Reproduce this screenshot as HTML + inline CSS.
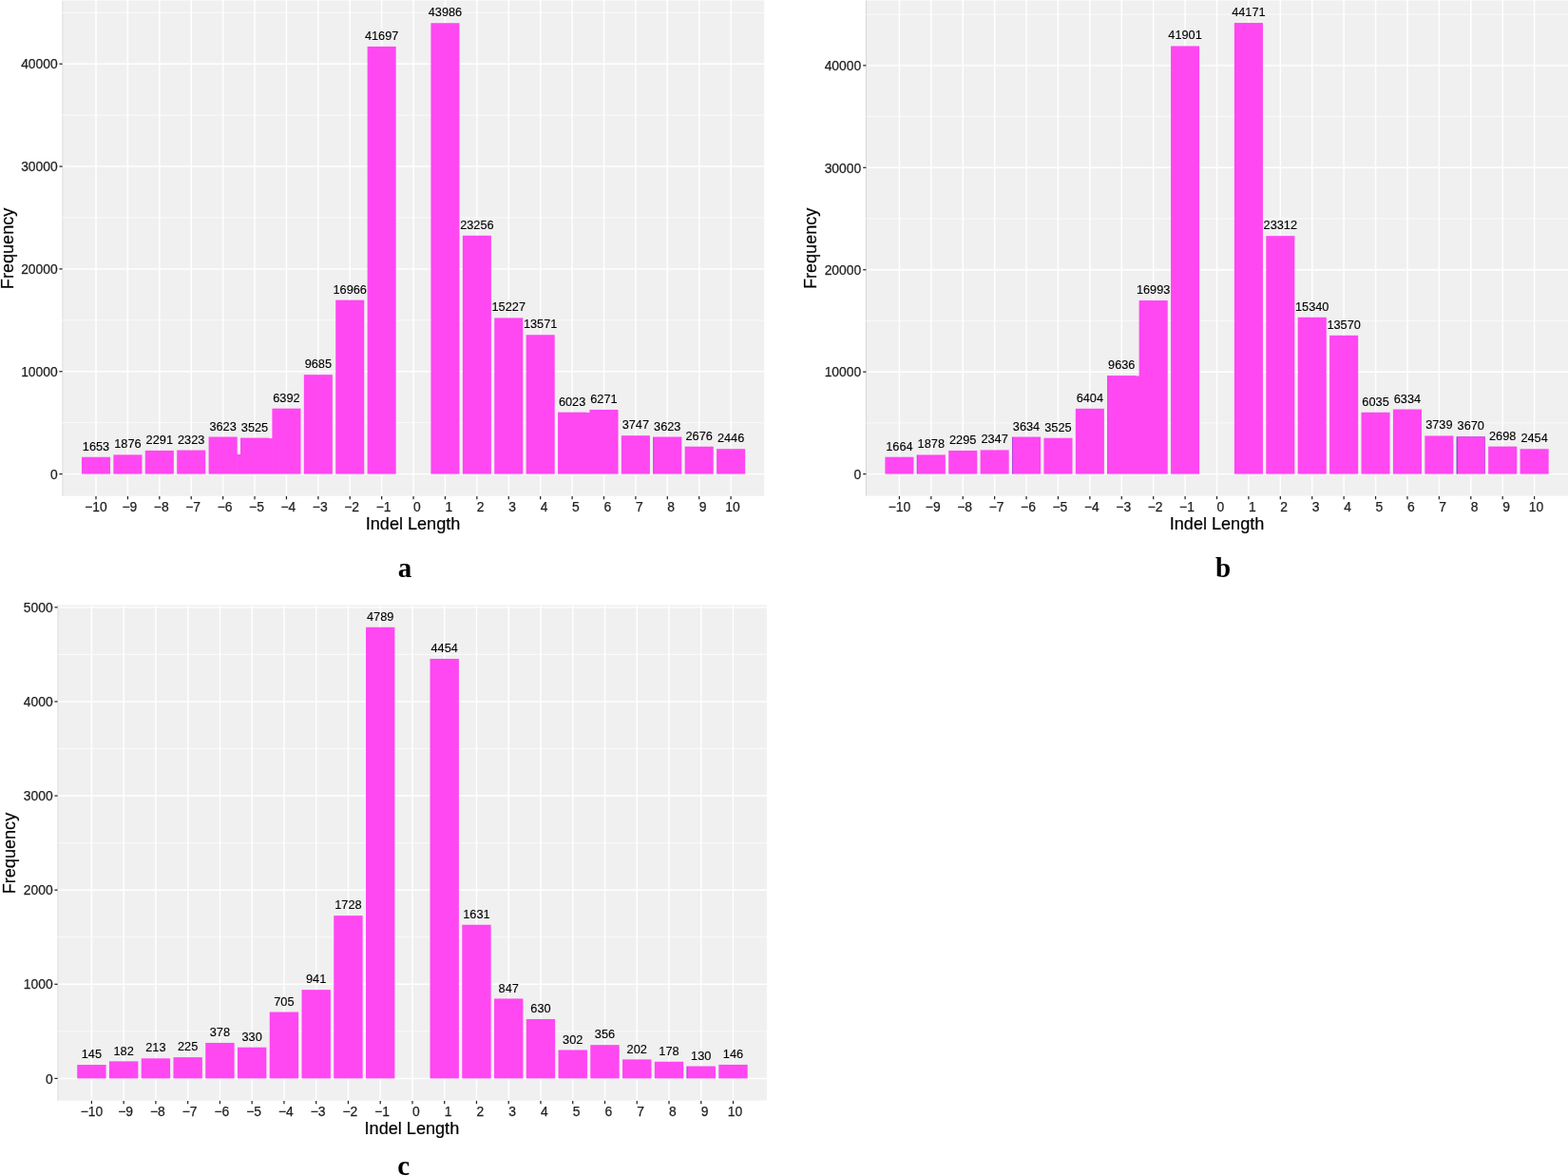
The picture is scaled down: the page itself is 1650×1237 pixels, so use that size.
<!DOCTYPE html>
<html lang="en"><head><meta charset="utf-8"><title>Indel length frequency</title>
<style>html,body{margin:0;padding:0;background:#fff;}body{width:1650px;height:1237px;overflow:hidden;}svg{display:block;}text{font-family:"Liberation Sans",sans-serif;}.ax{font-size:13.85px;fill:#1f1f1f;stroke:#1f1f1f;stroke-width:0.25px;}.bl{font-size:12.75px;fill:#000;text-anchor:middle;stroke:#000;stroke-width:0.12px;}.tt{font-size:18.1px;fill:#000;text-anchor:middle;stroke:#000;stroke-width:0.2px;}.pl{font-family:"Liberation Serif",serif;font-weight:bold;font-size:29px;fill:#000;text-anchor:middle;}</style></head><body>
<svg width="1650" height="1237" viewBox="0 0 1650 1237">
<rect x="0" y="0" width="1650" height="1237" fill="#ffffff"/>
<g id="panel-a">
<rect x="65.1" y="0" width="739.1" height="521.7" fill="#F0F0F0"/>
<rect x="65.1" y="0" width="2" height="521.7" fill="#E9E9E9"/>
<rect x="65.1" y="0" width="739.1" height="1" fill="#F7F7F7"/>
<line x1="65.1" x2="804.2" y1="444.68" y2="444.68" stroke="#fff" stroke-width="0.7"/>
<line x1="65.1" x2="804.2" y1="336.84" y2="336.84" stroke="#fff" stroke-width="0.7"/>
<line x1="65.1" x2="804.2" y1="229" y2="229" stroke="#fff" stroke-width="0.7"/>
<line x1="65.1" x2="804.2" y1="121.16" y2="121.16" stroke="#fff" stroke-width="0.7"/>
<line x1="65.1" x2="804.2" y1="13.32" y2="13.32" stroke="#fff" stroke-width="0.7"/>
<line x1="65.1" x2="804.2" y1="498.6" y2="498.6" stroke="#fff" stroke-width="1.45"/>
<line x1="65.1" x2="804.2" y1="390.76" y2="390.76" stroke="#fff" stroke-width="1.45"/>
<line x1="65.1" x2="804.2" y1="282.92" y2="282.92" stroke="#fff" stroke-width="1.45"/>
<line x1="65.1" x2="804.2" y1="175.08" y2="175.08" stroke="#fff" stroke-width="1.45"/>
<line x1="65.1" x2="804.2" y1="67.24" y2="67.24" stroke="#fff" stroke-width="1.45"/>
<line x1="101" x2="101" y1="0" y2="521.7" stroke="#fff" stroke-width="1.45"/>
<line x1="134.41" x2="134.41" y1="0" y2="521.7" stroke="#fff" stroke-width="1.45"/>
<line x1="167.81" x2="167.81" y1="0" y2="521.7" stroke="#fff" stroke-width="1.45"/>
<line x1="201.22" x2="201.22" y1="0" y2="521.7" stroke="#fff" stroke-width="1.45"/>
<line x1="234.62" x2="234.62" y1="0" y2="521.7" stroke="#fff" stroke-width="1.45"/>
<line x1="268.02" x2="268.02" y1="0" y2="521.7" stroke="#fff" stroke-width="1.45"/>
<line x1="301.43" x2="301.43" y1="0" y2="521.7" stroke="#fff" stroke-width="1.45"/>
<line x1="334.84" x2="334.84" y1="0" y2="521.7" stroke="#fff" stroke-width="1.45"/>
<line x1="368.24" x2="368.24" y1="0" y2="521.7" stroke="#fff" stroke-width="1.45"/>
<line x1="401.64" x2="401.64" y1="0" y2="521.7" stroke="#fff" stroke-width="1.45"/>
<line x1="435.05" x2="435.05" y1="0" y2="521.7" stroke="#fff" stroke-width="1.45"/>
<line x1="468.46" x2="468.46" y1="0" y2="521.7" stroke="#fff" stroke-width="1.45"/>
<line x1="501.86" x2="501.86" y1="0" y2="521.7" stroke="#fff" stroke-width="1.45"/>
<line x1="535.26" x2="535.26" y1="0" y2="521.7" stroke="#fff" stroke-width="1.45"/>
<line x1="568.67" x2="568.67" y1="0" y2="521.7" stroke="#fff" stroke-width="1.45"/>
<line x1="602.08" x2="602.08" y1="0" y2="521.7" stroke="#fff" stroke-width="1.45"/>
<line x1="635.48" x2="635.48" y1="0" y2="521.7" stroke="#fff" stroke-width="1.45"/>
<line x1="668.88" x2="668.88" y1="0" y2="521.7" stroke="#fff" stroke-width="1.45"/>
<line x1="702.29" x2="702.29" y1="0" y2="521.7" stroke="#fff" stroke-width="1.45"/>
<line x1="735.69" x2="735.69" y1="0" y2="521.7" stroke="#fff" stroke-width="1.45"/>
<line x1="769.1" x2="769.1" y1="0" y2="521.7" stroke="#fff" stroke-width="1.45"/>
<rect x="85.97" y="480.77" width="30.06" height="17.83" fill="#FF47F2"/>
<rect x="119.37" y="478.37" width="30.06" height="20.23" fill="#FF47F2"/>
<rect x="152.78" y="473.89" width="30.06" height="24.71" fill="#FF47F2"/>
<rect x="186.18" y="473.55" width="30.06" height="25.05" fill="#FF47F2"/>
<rect x="219.59" y="459.53" width="30.06" height="39.07" fill="#FF47F2"/>
<rect x="252.99" y="460.59" width="30.06" height="38.01" fill="#FF47F2"/>
<rect x="286.4" y="429.67" width="30.06" height="68.93" fill="#FF47F2"/>
<rect x="319.8" y="394.16" width="30.06" height="104.44" fill="#FF47F2"/>
<rect x="353.21" y="315.64" width="30.06" height="182.96" fill="#FF47F2"/>
<rect x="386.61" y="48.94" width="30.06" height="449.66" fill="#FF47F2"/>
<rect x="453.42" y="24.25" width="30.06" height="474.35" fill="#FF47F2"/>
<rect x="486.83" y="247.81" width="30.06" height="250.79" fill="#FF47F2"/>
<rect x="520.23" y="334.39" width="30.06" height="164.21" fill="#FF47F2"/>
<rect x="553.64" y="352.25" width="30.06" height="146.35" fill="#FF47F2"/>
<rect x="587.04" y="433.65" width="30.06" height="64.95" fill="#FF47F2"/>
<rect x="620.45" y="430.97" width="30.06" height="67.63" fill="#FF47F2"/>
<rect x="653.85" y="458.19" width="30.06" height="40.41" fill="#FF47F2"/>
<rect x="687.26" y="459.53" width="30.06" height="39.07" fill="#FF47F2"/>
<rect x="720.66" y="469.74" width="30.06" height="28.86" fill="#FF47F2"/>
<rect x="754.07" y="472.22" width="30.06" height="26.38" fill="#FF47F2"/>
<line x1="687.66" x2="687.66" y1="459.83" y2="498.6" stroke="#2F3FA8" stroke-width="0.8" stroke-opacity="0.45"/>
<rect x="249.15" y="477.89" width="4.34" height="20.71" fill="#FF47F2"/>
<rect x="282.56" y="461.07" width="4.34" height="37.53" fill="#FF47F2"/>
<rect x="616.61" y="434" width="4.34" height="64.6" fill="#FF47F2"/>
<text class="bl" x="101" y="474">1653</text>
<text class="bl" x="134.41" y="471">1876</text>
<text class="bl" x="167.81" y="467">2291</text>
<text class="bl" x="201.22" y="467">2323</text>
<text class="bl" x="234.62" y="453">3623</text>
<text class="bl" x="268.02" y="454">3525</text>
<text class="bl" x="301.43" y="423">6392</text>
<text class="bl" x="334.84" y="387">9685</text>
<text class="bl" x="368.24" y="309">16966</text>
<text class="bl" x="401.64" y="42">41697</text>
<text class="bl" x="468.46" y="17">43986</text>
<text class="bl" x="501.86" y="241">23256</text>
<text class="bl" x="535.26" y="327">15227</text>
<text class="bl" x="568.67" y="345">13571</text>
<text class="bl" x="602.08" y="427">6023</text>
<text class="bl" x="635.48" y="424">6271</text>
<text class="bl" x="668.88" y="451">3747</text>
<text class="bl" x="702.29" y="453">3623</text>
<text class="bl" x="735.69" y="463">2676</text>
<text class="bl" x="769.1" y="465">2446</text>
<line x1="62.4" x2="65.7" y1="498.6" y2="498.6" stroke="#262626" stroke-width="1.25"/>
<text class="ax" text-anchor="end" x="60.65" y="504">0</text>
<line x1="62.4" x2="65.7" y1="390.76" y2="390.76" stroke="#262626" stroke-width="1.25"/>
<text class="ax" text-anchor="end" x="60.65" y="396">10000</text>
<line x1="62.4" x2="65.7" y1="282.92" y2="282.92" stroke="#262626" stroke-width="1.25"/>
<text class="ax" text-anchor="end" x="60.65" y="288">20000</text>
<line x1="62.4" x2="65.7" y1="175.08" y2="175.08" stroke="#262626" stroke-width="1.25"/>
<text class="ax" text-anchor="end" x="60.65" y="180">30000</text>
<line x1="62.4" x2="65.7" y1="67.24" y2="67.24" stroke="#262626" stroke-width="1.25"/>
<text class="ax" text-anchor="end" x="60.65" y="72">40000</text>
<line x1="101" x2="101" y1="522" y2="525.3" stroke="#262626" stroke-width="1.25"/>
<text class="ax" text-anchor="middle" x="101" y="538">−10</text>
<line x1="134.41" x2="134.41" y1="522" y2="525.3" stroke="#262626" stroke-width="1.25"/>
<text class="ax" text-anchor="middle" x="136.33" y="538">−9</text>
<line x1="167.81" x2="167.81" y1="522" y2="525.3" stroke="#262626" stroke-width="1.25"/>
<text class="ax" text-anchor="middle" x="169.74" y="538">−8</text>
<line x1="201.22" x2="201.22" y1="522" y2="525.3" stroke="#262626" stroke-width="1.25"/>
<text class="ax" text-anchor="middle" x="203.14" y="538">−7</text>
<line x1="234.62" x2="234.62" y1="522" y2="525.3" stroke="#262626" stroke-width="1.25"/>
<text class="ax" text-anchor="middle" x="236.55" y="538">−6</text>
<line x1="268.02" x2="268.02" y1="522" y2="525.3" stroke="#262626" stroke-width="1.25"/>
<text class="ax" text-anchor="middle" x="269.95" y="538">−5</text>
<line x1="301.43" x2="301.43" y1="522" y2="525.3" stroke="#262626" stroke-width="1.25"/>
<text class="ax" text-anchor="middle" x="303.36" y="538">−4</text>
<line x1="334.84" x2="334.84" y1="522" y2="525.3" stroke="#262626" stroke-width="1.25"/>
<text class="ax" text-anchor="middle" x="336.76" y="538">−3</text>
<line x1="368.24" x2="368.24" y1="522" y2="525.3" stroke="#262626" stroke-width="1.25"/>
<text class="ax" text-anchor="middle" x="370.17" y="538">−2</text>
<line x1="401.64" x2="401.64" y1="522" y2="525.3" stroke="#262626" stroke-width="1.25"/>
<text class="ax" text-anchor="middle" x="403.57" y="538">−1</text>
<line x1="435.05" x2="435.05" y1="522" y2="525.3" stroke="#262626" stroke-width="1.25"/>
<text class="ax" text-anchor="middle" x="438.9" y="538">0</text>
<line x1="468.46" x2="468.46" y1="522" y2="525.3" stroke="#262626" stroke-width="1.25"/>
<text class="ax" text-anchor="middle" x="472.31" y="538">1</text>
<line x1="501.86" x2="501.86" y1="522" y2="525.3" stroke="#262626" stroke-width="1.25"/>
<text class="ax" text-anchor="middle" x="505.71" y="538">2</text>
<line x1="535.26" x2="535.26" y1="522" y2="525.3" stroke="#262626" stroke-width="1.25"/>
<text class="ax" text-anchor="middle" x="539.12" y="538">3</text>
<line x1="568.67" x2="568.67" y1="522" y2="525.3" stroke="#262626" stroke-width="1.25"/>
<text class="ax" text-anchor="middle" x="572.52" y="538">4</text>
<line x1="602.08" x2="602.08" y1="522" y2="525.3" stroke="#262626" stroke-width="1.25"/>
<text class="ax" text-anchor="middle" x="605.93" y="538">5</text>
<line x1="635.48" x2="635.48" y1="522" y2="525.3" stroke="#262626" stroke-width="1.25"/>
<text class="ax" text-anchor="middle" x="639.33" y="538">6</text>
<line x1="668.88" x2="668.88" y1="522" y2="525.3" stroke="#262626" stroke-width="1.25"/>
<text class="ax" text-anchor="middle" x="672.74" y="538">7</text>
<line x1="702.29" x2="702.29" y1="522" y2="525.3" stroke="#262626" stroke-width="1.25"/>
<text class="ax" text-anchor="middle" x="706.14" y="538">8</text>
<line x1="735.69" x2="735.69" y1="522" y2="525.3" stroke="#262626" stroke-width="1.25"/>
<text class="ax" text-anchor="middle" x="739.55" y="538">9</text>
<line x1="769.1" x2="769.1" y1="522" y2="525.3" stroke="#262626" stroke-width="1.25"/>
<text class="ax" text-anchor="middle" x="771.03" y="538">10</text>
<text class="tt" x="434.55" y="557">Indel Length</text>
<text class="tt" transform="translate(13.6,261.4) rotate(-90)">Frequency</text>
<text class="pl" x="425.9" y="607">a</text>
</g>
<g id="panel-b">
<rect x="911.3" y="0" width="738.7" height="521.6" fill="#F0F0F0"/>
<rect x="910.9" y="0" width="1" height="521.6" fill="#D6D6D6"/>
<rect x="911.3" y="0" width="738.7" height="1" fill="#F7F7F7"/>
<line x1="911.3" x2="1650" y1="444.88" y2="444.88" stroke="#fff" stroke-width="0.7"/>
<line x1="911.3" x2="1650" y1="337.46" y2="337.46" stroke="#fff" stroke-width="0.7"/>
<line x1="911.3" x2="1650" y1="230.02" y2="230.02" stroke="#fff" stroke-width="0.7"/>
<line x1="911.3" x2="1650" y1="122.59" y2="122.59" stroke="#fff" stroke-width="0.7"/>
<line x1="911.3" x2="1650" y1="15.16" y2="15.16" stroke="#fff" stroke-width="0.7"/>
<line x1="911.3" x2="1650" y1="498.6" y2="498.6" stroke="#fff" stroke-width="1.45"/>
<line x1="911.3" x2="1650" y1="391.17" y2="391.17" stroke="#fff" stroke-width="1.45"/>
<line x1="911.3" x2="1650" y1="283.74" y2="283.74" stroke="#fff" stroke-width="1.45"/>
<line x1="911.3" x2="1650" y1="176.31" y2="176.31" stroke="#fff" stroke-width="1.45"/>
<line x1="911.3" x2="1650" y1="68.88" y2="68.88" stroke="#fff" stroke-width="1.45"/>
<line x1="946.4" x2="946.4" y1="0" y2="521.6" stroke="#fff" stroke-width="1.45"/>
<line x1="979.81" x2="979.81" y1="0" y2="521.6" stroke="#fff" stroke-width="1.45"/>
<line x1="1013.22" x2="1013.22" y1="0" y2="521.6" stroke="#fff" stroke-width="1.45"/>
<line x1="1046.63" x2="1046.63" y1="0" y2="521.6" stroke="#fff" stroke-width="1.45"/>
<line x1="1080.04" x2="1080.04" y1="0" y2="521.6" stroke="#fff" stroke-width="1.45"/>
<line x1="1113.45" x2="1113.45" y1="0" y2="521.6" stroke="#fff" stroke-width="1.45"/>
<line x1="1146.86" x2="1146.86" y1="0" y2="521.6" stroke="#fff" stroke-width="1.45"/>
<line x1="1180.27" x2="1180.27" y1="0" y2="521.6" stroke="#fff" stroke-width="1.45"/>
<line x1="1213.68" x2="1213.68" y1="0" y2="521.6" stroke="#fff" stroke-width="1.45"/>
<line x1="1247.09" x2="1247.09" y1="0" y2="521.6" stroke="#fff" stroke-width="1.45"/>
<line x1="1280.5" x2="1280.5" y1="0" y2="521.6" stroke="#fff" stroke-width="1.45"/>
<line x1="1313.91" x2="1313.91" y1="0" y2="521.6" stroke="#fff" stroke-width="1.45"/>
<line x1="1347.32" x2="1347.32" y1="0" y2="521.6" stroke="#fff" stroke-width="1.45"/>
<line x1="1380.73" x2="1380.73" y1="0" y2="521.6" stroke="#fff" stroke-width="1.45"/>
<line x1="1414.14" x2="1414.14" y1="0" y2="521.6" stroke="#fff" stroke-width="1.45"/>
<line x1="1447.55" x2="1447.55" y1="0" y2="521.6" stroke="#fff" stroke-width="1.45"/>
<line x1="1480.96" x2="1480.96" y1="0" y2="521.6" stroke="#fff" stroke-width="1.45"/>
<line x1="1514.37" x2="1514.37" y1="0" y2="521.6" stroke="#fff" stroke-width="1.45"/>
<line x1="1547.78" x2="1547.78" y1="0" y2="521.6" stroke="#fff" stroke-width="1.45"/>
<line x1="1581.19" x2="1581.19" y1="0" y2="521.6" stroke="#fff" stroke-width="1.45"/>
<line x1="1614.6" x2="1614.6" y1="0" y2="521.6" stroke="#fff" stroke-width="1.45"/>
<rect x="931.37" y="480.72" width="30.07" height="17.88" fill="#FF47F2"/>
<rect x="964.78" y="478.42" width="30.07" height="20.18" fill="#FF47F2"/>
<rect x="998.19" y="473.94" width="30.07" height="24.66" fill="#FF47F2"/>
<rect x="1031.6" y="473.39" width="30.07" height="25.21" fill="#FF47F2"/>
<rect x="1065.01" y="459.56" width="30.07" height="39.04" fill="#FF47F2"/>
<rect x="1098.42" y="460.73" width="30.07" height="37.87" fill="#FF47F2"/>
<rect x="1131.83" y="429.8" width="30.07" height="68.8" fill="#FF47F2"/>
<rect x="1165.24" y="395.08" width="30.07" height="103.52" fill="#FF47F2"/>
<rect x="1198.65" y="316.04" width="30.07" height="182.56" fill="#FF47F2"/>
<rect x="1232.06" y="48.46" width="30.07" height="450.14" fill="#FF47F2"/>
<rect x="1298.88" y="24.07" width="30.07" height="474.53" fill="#FF47F2"/>
<rect x="1332.29" y="248.16" width="30.07" height="250.44" fill="#FF47F2"/>
<rect x="1365.7" y="333.8" width="30.07" height="164.8" fill="#FF47F2"/>
<rect x="1399.11" y="352.82" width="30.07" height="145.78" fill="#FF47F2"/>
<rect x="1432.52" y="433.77" width="30.07" height="64.83" fill="#FF47F2"/>
<rect x="1465.93" y="430.55" width="30.07" height="68.05" fill="#FF47F2"/>
<rect x="1499.34" y="458.43" width="30.07" height="40.17" fill="#FF47F2"/>
<rect x="1532.75" y="459.17" width="30.07" height="39.43" fill="#FF47F2"/>
<rect x="1566.16" y="469.62" width="30.07" height="28.98" fill="#FF47F2"/>
<rect x="1599.57" y="472.24" width="30.07" height="26.36" fill="#FF47F2"/>
<line x1="1533.15" x2="1533.15" y1="459.47" y2="498.6" stroke="#2F3FA8" stroke-width="0.8" stroke-opacity="0.9"/>
<path d="M1533.15 459.47H1562.51V498.6" fill="none" stroke="#4A3FC0" stroke-width="0.6" stroke-opacity="0.45"/>
<line x1="965.18" x2="965.18" y1="478.72" y2="498.6" stroke="#2F3FA8" stroke-width="0.8" stroke-opacity="0.4"/>
<line x1="1065.41" x2="1065.41" y1="459.86" y2="498.6" stroke="#2F3FA8" stroke-width="0.8" stroke-opacity="0.5"/>
<line x1="1165.64" x2="1165.64" y1="395.38" y2="498.6" stroke="#2F3FA8" stroke-width="0.8" stroke-opacity="0.4"/>
<rect x="1194.8" y="395.47" width="4.34" height="103.13" fill="#FF47F2"/>
<text class="bl" x="946.4" y="474">1664</text>
<text class="bl" x="979.81" y="471">1878</text>
<text class="bl" x="1013.22" y="467">2295</text>
<text class="bl" x="1046.63" y="466">2347</text>
<text class="bl" x="1080.04" y="453">3634</text>
<text class="bl" x="1113.45" y="454">3525</text>
<text class="bl" x="1146.86" y="423">6404</text>
<text class="bl" x="1180.27" y="388">9636</text>
<text class="bl" x="1213.68" y="309">16993</text>
<text class="bl" x="1247.09" y="41">41901</text>
<text class="bl" x="1313.91" y="17">44171</text>
<text class="bl" x="1347.32" y="241">23312</text>
<text class="bl" x="1380.73" y="327">15340</text>
<text class="bl" x="1414.14" y="346">13570</text>
<text class="bl" x="1447.55" y="427">6035</text>
<text class="bl" x="1480.96" y="424">6334</text>
<text class="bl" x="1514.37" y="451">3739</text>
<text class="bl" x="1547.78" y="452">3670</text>
<text class="bl" x="1581.19" y="463">2698</text>
<text class="bl" x="1614.6" y="465">2454</text>
<line x1="908.2" x2="911.5" y1="498.6" y2="498.6" stroke="#262626" stroke-width="1.25"/>
<text class="ax" text-anchor="end" x="906.15" y="504">0</text>
<line x1="908.2" x2="911.5" y1="391.17" y2="391.17" stroke="#262626" stroke-width="1.25"/>
<text class="ax" text-anchor="end" x="906.15" y="396">10000</text>
<line x1="908.2" x2="911.5" y1="283.74" y2="283.74" stroke="#262626" stroke-width="1.25"/>
<text class="ax" text-anchor="end" x="906.15" y="289">20000</text>
<line x1="908.2" x2="911.5" y1="176.31" y2="176.31" stroke="#262626" stroke-width="1.25"/>
<text class="ax" text-anchor="end" x="906.15" y="182">30000</text>
<line x1="908.2" x2="911.5" y1="68.88" y2="68.88" stroke="#262626" stroke-width="1.25"/>
<text class="ax" text-anchor="end" x="906.15" y="74">40000</text>
<line x1="946.4" x2="946.4" y1="521.9" y2="525.2" stroke="#262626" stroke-width="1.25"/>
<text class="ax" text-anchor="middle" x="946.4" y="538">−10</text>
<line x1="979.81" x2="979.81" y1="521.9" y2="525.2" stroke="#262626" stroke-width="1.25"/>
<text class="ax" text-anchor="middle" x="981.74" y="538">−9</text>
<line x1="1013.22" x2="1013.22" y1="521.9" y2="525.2" stroke="#262626" stroke-width="1.25"/>
<text class="ax" text-anchor="middle" x="1015.15" y="538">−8</text>
<line x1="1046.63" x2="1046.63" y1="521.9" y2="525.2" stroke="#262626" stroke-width="1.25"/>
<text class="ax" text-anchor="middle" x="1048.56" y="538">−7</text>
<line x1="1080.04" x2="1080.04" y1="521.9" y2="525.2" stroke="#262626" stroke-width="1.25"/>
<text class="ax" text-anchor="middle" x="1081.97" y="538">−6</text>
<line x1="1113.45" x2="1113.45" y1="521.9" y2="525.2" stroke="#262626" stroke-width="1.25"/>
<text class="ax" text-anchor="middle" x="1115.38" y="538">−5</text>
<line x1="1146.86" x2="1146.86" y1="521.9" y2="525.2" stroke="#262626" stroke-width="1.25"/>
<text class="ax" text-anchor="middle" x="1148.79" y="538">−4</text>
<line x1="1180.27" x2="1180.27" y1="521.9" y2="525.2" stroke="#262626" stroke-width="1.25"/>
<text class="ax" text-anchor="middle" x="1182.2" y="538">−3</text>
<line x1="1213.68" x2="1213.68" y1="521.9" y2="525.2" stroke="#262626" stroke-width="1.25"/>
<text class="ax" text-anchor="middle" x="1215.61" y="538">−2</text>
<line x1="1247.09" x2="1247.09" y1="521.9" y2="525.2" stroke="#262626" stroke-width="1.25"/>
<text class="ax" text-anchor="middle" x="1249.02" y="538">−1</text>
<line x1="1280.5" x2="1280.5" y1="521.9" y2="525.2" stroke="#262626" stroke-width="1.25"/>
<text class="ax" text-anchor="middle" x="1284.35" y="538">0</text>
<line x1="1313.91" x2="1313.91" y1="521.9" y2="525.2" stroke="#262626" stroke-width="1.25"/>
<text class="ax" text-anchor="middle" x="1317.76" y="538">1</text>
<line x1="1347.32" x2="1347.32" y1="521.9" y2="525.2" stroke="#262626" stroke-width="1.25"/>
<text class="ax" text-anchor="middle" x="1351.17" y="538">2</text>
<line x1="1380.73" x2="1380.73" y1="521.9" y2="525.2" stroke="#262626" stroke-width="1.25"/>
<text class="ax" text-anchor="middle" x="1384.58" y="538">3</text>
<line x1="1414.14" x2="1414.14" y1="521.9" y2="525.2" stroke="#262626" stroke-width="1.25"/>
<text class="ax" text-anchor="middle" x="1417.99" y="538">4</text>
<line x1="1447.55" x2="1447.55" y1="521.9" y2="525.2" stroke="#262626" stroke-width="1.25"/>
<text class="ax" text-anchor="middle" x="1451.4" y="538">5</text>
<line x1="1480.96" x2="1480.96" y1="521.9" y2="525.2" stroke="#262626" stroke-width="1.25"/>
<text class="ax" text-anchor="middle" x="1484.81" y="538">6</text>
<line x1="1514.37" x2="1514.37" y1="521.9" y2="525.2" stroke="#262626" stroke-width="1.25"/>
<text class="ax" text-anchor="middle" x="1518.22" y="538">7</text>
<line x1="1547.78" x2="1547.78" y1="521.9" y2="525.2" stroke="#262626" stroke-width="1.25"/>
<text class="ax" text-anchor="middle" x="1551.63" y="538">8</text>
<line x1="1581.19" x2="1581.19" y1="521.9" y2="525.2" stroke="#262626" stroke-width="1.25"/>
<text class="ax" text-anchor="middle" x="1585.04" y="538">9</text>
<line x1="1614.6" x2="1614.6" y1="521.9" y2="525.2" stroke="#262626" stroke-width="1.25"/>
<text class="ax" text-anchor="middle" x="1616.53" y="538">10</text>
<text class="tt" x="1280.55" y="557">Indel Length</text>
<text class="tt" transform="translate(859.1,261.35) rotate(-90)">Frequency</text>
<text class="pl" x="1287" y="607">b</text>
</g>
<g id="panel-c">
<rect x="60.1" y="636.4" width="746.8" height="521.2" fill="#F0F0F0"/>
<rect x="60.1" y="636.4" width="2" height="521.2" fill="#E9E9E9"/>
<line x1="60.1" x2="806.9" y1="1084.85" y2="1084.85" stroke="#fff" stroke-width="0.7"/>
<line x1="60.1" x2="806.9" y1="985.74" y2="985.74" stroke="#fff" stroke-width="0.7"/>
<line x1="60.1" x2="806.9" y1="886.63" y2="886.63" stroke="#fff" stroke-width="0.7"/>
<line x1="60.1" x2="806.9" y1="787.52" y2="787.52" stroke="#fff" stroke-width="0.7"/>
<line x1="60.1" x2="806.9" y1="688.41" y2="688.41" stroke="#fff" stroke-width="0.7"/>
<line x1="60.1" x2="806.9" y1="1134.4" y2="1134.4" stroke="#fff" stroke-width="1.45"/>
<line x1="60.1" x2="806.9" y1="1035.29" y2="1035.29" stroke="#fff" stroke-width="1.45"/>
<line x1="60.1" x2="806.9" y1="936.18" y2="936.18" stroke="#fff" stroke-width="1.45"/>
<line x1="60.1" x2="806.9" y1="837.07" y2="837.07" stroke="#fff" stroke-width="1.45"/>
<line x1="60.1" x2="806.9" y1="737.96" y2="737.96" stroke="#fff" stroke-width="1.45"/>
<line x1="60.1" x2="806.9" y1="638.85" y2="638.85" stroke="#fff" stroke-width="1.45"/>
<line x1="96.4" x2="96.4" y1="636.4" y2="1157.6" stroke="#fff" stroke-width="1.45"/>
<line x1="130.15" x2="130.15" y1="636.4" y2="1157.6" stroke="#fff" stroke-width="1.45"/>
<line x1="163.91" x2="163.91" y1="636.4" y2="1157.6" stroke="#fff" stroke-width="1.45"/>
<line x1="197.66" x2="197.66" y1="636.4" y2="1157.6" stroke="#fff" stroke-width="1.45"/>
<line x1="231.42" x2="231.42" y1="636.4" y2="1157.6" stroke="#fff" stroke-width="1.45"/>
<line x1="265.17" x2="265.17" y1="636.4" y2="1157.6" stroke="#fff" stroke-width="1.45"/>
<line x1="298.93" x2="298.93" y1="636.4" y2="1157.6" stroke="#fff" stroke-width="1.45"/>
<line x1="332.68" x2="332.68" y1="636.4" y2="1157.6" stroke="#fff" stroke-width="1.45"/>
<line x1="366.44" x2="366.44" y1="636.4" y2="1157.6" stroke="#fff" stroke-width="1.45"/>
<line x1="400.19" x2="400.19" y1="636.4" y2="1157.6" stroke="#fff" stroke-width="1.45"/>
<line x1="433.95" x2="433.95" y1="636.4" y2="1157.6" stroke="#fff" stroke-width="1.45"/>
<line x1="467.7" x2="467.7" y1="636.4" y2="1157.6" stroke="#fff" stroke-width="1.45"/>
<line x1="501.46" x2="501.46" y1="636.4" y2="1157.6" stroke="#fff" stroke-width="1.45"/>
<line x1="535.22" x2="535.22" y1="636.4" y2="1157.6" stroke="#fff" stroke-width="1.45"/>
<line x1="568.97" x2="568.97" y1="636.4" y2="1157.6" stroke="#fff" stroke-width="1.45"/>
<line x1="602.73" x2="602.73" y1="636.4" y2="1157.6" stroke="#fff" stroke-width="1.45"/>
<line x1="636.48" x2="636.48" y1="636.4" y2="1157.6" stroke="#fff" stroke-width="1.45"/>
<line x1="670.24" x2="670.24" y1="636.4" y2="1157.6" stroke="#fff" stroke-width="1.45"/>
<line x1="703.99" x2="703.99" y1="636.4" y2="1157.6" stroke="#fff" stroke-width="1.45"/>
<line x1="737.75" x2="737.75" y1="636.4" y2="1157.6" stroke="#fff" stroke-width="1.45"/>
<line x1="771.5" x2="771.5" y1="636.4" y2="1157.6" stroke="#fff" stroke-width="1.45"/>
<rect x="81.21" y="1120.03" width="30.38" height="14.37" fill="#FF47F2"/>
<rect x="114.97" y="1116.36" width="30.38" height="18.04" fill="#FF47F2"/>
<rect x="148.72" y="1113.29" width="30.38" height="21.11" fill="#FF47F2"/>
<rect x="182.48" y="1112.1" width="30.38" height="22.3" fill="#FF47F2"/>
<rect x="216.23" y="1096.94" width="30.38" height="37.46" fill="#FF47F2"/>
<rect x="249.99" y="1101.69" width="30.38" height="32.71" fill="#FF47F2"/>
<rect x="283.74" y="1064.53" width="30.38" height="69.87" fill="#FF47F2"/>
<rect x="317.5" y="1041.14" width="30.38" height="93.26" fill="#FF47F2"/>
<rect x="351.25" y="963.14" width="30.38" height="171.26" fill="#FF47F2"/>
<rect x="385.01" y="659.76" width="30.38" height="474.64" fill="#FF47F2"/>
<rect x="452.52" y="692.96" width="30.38" height="441.44" fill="#FF47F2"/>
<rect x="486.27" y="972.75" width="30.38" height="161.65" fill="#FF47F2"/>
<rect x="520.03" y="1050.45" width="30.38" height="83.95" fill="#FF47F2"/>
<rect x="553.78" y="1071.96" width="30.38" height="62.44" fill="#FF47F2"/>
<rect x="587.54" y="1104.47" width="30.38" height="29.93" fill="#FF47F2"/>
<rect x="621.29" y="1099.12" width="30.38" height="35.28" fill="#FF47F2"/>
<rect x="655.05" y="1114.38" width="30.38" height="20.02" fill="#FF47F2"/>
<rect x="688.8" y="1116.76" width="30.38" height="17.64" fill="#FF47F2"/>
<rect x="722.56" y="1121.52" width="30.38" height="12.88" fill="#FF47F2"/>
<rect x="756.31" y="1119.93" width="30.38" height="14.47" fill="#FF47F2"/>
<line x1="722.96" x2="722.96" y1="1121.82" y2="1134.4" stroke="#2F3FA8" stroke-width="0.8" stroke-opacity="0.6"/>
<text class="bl" x="96.4" y="1113">145</text>
<text class="bl" x="130.15" y="1110">182</text>
<text class="bl" x="163.91" y="1106">213</text>
<text class="bl" x="197.66" y="1105">225</text>
<text class="bl" x="231.42" y="1090">378</text>
<text class="bl" x="265.17" y="1095">330</text>
<text class="bl" x="298.93" y="1058">705</text>
<text class="bl" x="332.68" y="1034">941</text>
<text class="bl" x="366.44" y="956">1728</text>
<text class="bl" x="400.19" y="653">4789</text>
<text class="bl" x="467.7" y="686">4454</text>
<text class="bl" x="501.46" y="966">1631</text>
<text class="bl" x="535.22" y="1044">847</text>
<text class="bl" x="568.97" y="1065">630</text>
<text class="bl" x="602.73" y="1098">302</text>
<text class="bl" x="636.48" y="1092">356</text>
<text class="bl" x="670.24" y="1108">202</text>
<text class="bl" x="703.99" y="1110">178</text>
<text class="bl" x="737.75" y="1115">130</text>
<text class="bl" x="771.5" y="1113">146</text>
<line x1="57.4" x2="60.7" y1="1134.4" y2="1134.4" stroke="#262626" stroke-width="1.25"/>
<text class="ax" text-anchor="end" x="55.65" y="1140">0</text>
<line x1="57.4" x2="60.7" y1="1035.29" y2="1035.29" stroke="#262626" stroke-width="1.25"/>
<text class="ax" text-anchor="end" x="55.65" y="1040">1000</text>
<line x1="57.4" x2="60.7" y1="936.18" y2="936.18" stroke="#262626" stroke-width="1.25"/>
<text class="ax" text-anchor="end" x="55.65" y="941">2000</text>
<line x1="57.4" x2="60.7" y1="837.07" y2="837.07" stroke="#262626" stroke-width="1.25"/>
<text class="ax" text-anchor="end" x="55.65" y="842">3000</text>
<line x1="57.4" x2="60.7" y1="737.96" y2="737.96" stroke="#262626" stroke-width="1.25"/>
<text class="ax" text-anchor="end" x="55.65" y="743">4000</text>
<line x1="57.4" x2="60.7" y1="638.85" y2="638.85" stroke="#262626" stroke-width="1.25"/>
<text class="ax" text-anchor="end" x="55.65" y="644">5000</text>
<line x1="96.4" x2="96.4" y1="1157.9" y2="1161.2" stroke="#262626" stroke-width="1.25"/>
<text class="ax" text-anchor="middle" x="96.4" y="1174">−10</text>
<line x1="130.15" x2="130.15" y1="1157.9" y2="1161.2" stroke="#262626" stroke-width="1.25"/>
<text class="ax" text-anchor="middle" x="132.08" y="1174">−9</text>
<line x1="163.91" x2="163.91" y1="1157.9" y2="1161.2" stroke="#262626" stroke-width="1.25"/>
<text class="ax" text-anchor="middle" x="165.84" y="1174">−8</text>
<line x1="197.66" x2="197.66" y1="1157.9" y2="1161.2" stroke="#262626" stroke-width="1.25"/>
<text class="ax" text-anchor="middle" x="199.59" y="1174">−7</text>
<line x1="231.42" x2="231.42" y1="1157.9" y2="1161.2" stroke="#262626" stroke-width="1.25"/>
<text class="ax" text-anchor="middle" x="233.35" y="1174">−6</text>
<line x1="265.17" x2="265.17" y1="1157.9" y2="1161.2" stroke="#262626" stroke-width="1.25"/>
<text class="ax" text-anchor="middle" x="267.1" y="1174">−5</text>
<line x1="298.93" x2="298.93" y1="1157.9" y2="1161.2" stroke="#262626" stroke-width="1.25"/>
<text class="ax" text-anchor="middle" x="300.86" y="1174">−4</text>
<line x1="332.68" x2="332.68" y1="1157.9" y2="1161.2" stroke="#262626" stroke-width="1.25"/>
<text class="ax" text-anchor="middle" x="334.61" y="1174">−3</text>
<line x1="366.44" x2="366.44" y1="1157.9" y2="1161.2" stroke="#262626" stroke-width="1.25"/>
<text class="ax" text-anchor="middle" x="368.37" y="1174">−2</text>
<line x1="400.19" x2="400.19" y1="1157.9" y2="1161.2" stroke="#262626" stroke-width="1.25"/>
<text class="ax" text-anchor="middle" x="402.12" y="1174">−1</text>
<line x1="433.95" x2="433.95" y1="1157.9" y2="1161.2" stroke="#262626" stroke-width="1.25"/>
<text class="ax" text-anchor="middle" x="437.8" y="1174">0</text>
<line x1="467.7" x2="467.7" y1="1157.9" y2="1161.2" stroke="#262626" stroke-width="1.25"/>
<text class="ax" text-anchor="middle" x="471.56" y="1174">1</text>
<line x1="501.46" x2="501.46" y1="1157.9" y2="1161.2" stroke="#262626" stroke-width="1.25"/>
<text class="ax" text-anchor="middle" x="505.31" y="1174">2</text>
<line x1="535.22" x2="535.22" y1="1157.9" y2="1161.2" stroke="#262626" stroke-width="1.25"/>
<text class="ax" text-anchor="middle" x="539.07" y="1174">3</text>
<line x1="568.97" x2="568.97" y1="1157.9" y2="1161.2" stroke="#262626" stroke-width="1.25"/>
<text class="ax" text-anchor="middle" x="572.82" y="1174">4</text>
<line x1="602.73" x2="602.73" y1="1157.9" y2="1161.2" stroke="#262626" stroke-width="1.25"/>
<text class="ax" text-anchor="middle" x="606.58" y="1174">5</text>
<line x1="636.48" x2="636.48" y1="1157.9" y2="1161.2" stroke="#262626" stroke-width="1.25"/>
<text class="ax" text-anchor="middle" x="640.33" y="1174">6</text>
<line x1="670.24" x2="670.24" y1="1157.9" y2="1161.2" stroke="#262626" stroke-width="1.25"/>
<text class="ax" text-anchor="middle" x="674.09" y="1174">7</text>
<line x1="703.99" x2="703.99" y1="1157.9" y2="1161.2" stroke="#262626" stroke-width="1.25"/>
<text class="ax" text-anchor="middle" x="707.84" y="1174">8</text>
<line x1="737.75" x2="737.75" y1="1157.9" y2="1161.2" stroke="#262626" stroke-width="1.25"/>
<text class="ax" text-anchor="middle" x="741.6" y="1174">9</text>
<line x1="771.5" x2="771.5" y1="1157.9" y2="1161.2" stroke="#262626" stroke-width="1.25"/>
<text class="ax" text-anchor="middle" x="773.43" y="1174">10</text>
<text class="tt" x="433.4" y="1193">Indel Length</text>
<text class="tt" transform="translate(16,897.55) rotate(-90)">Frequency</text>
<text class="pl" x="424.7" y="1236">c</text>
</g>
</svg></body></html>
